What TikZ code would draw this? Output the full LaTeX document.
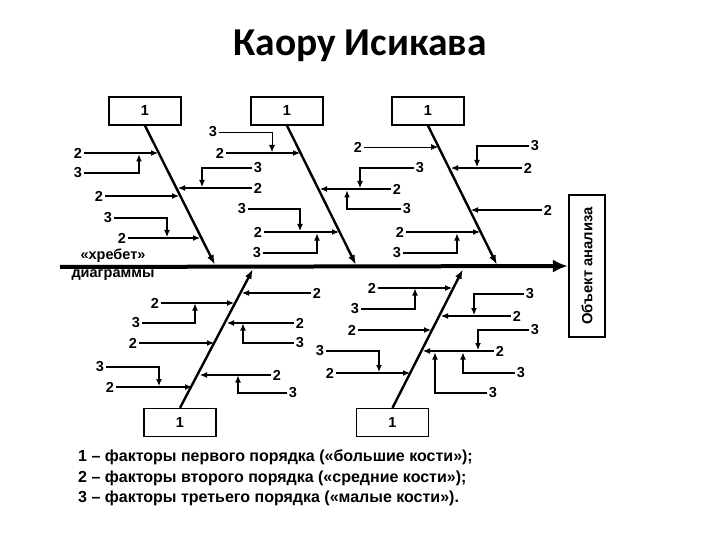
\documentclass[tikz,border=0pt]{standalone}
\usepackage{fontspec}
\setmainfont{Liberation Sans}
\newfontfamily\titlefont{Carlito}
\usetikzlibrary{arrows.meta}
\tikzset{
  lab/.style={font=\fontsize{14.5}{16}\selectfont\bfseries, inner sep=2pt},
  arr/.style={-{Latex[length=7pt,width=6pt]}, line width=1.1pt},
  bone/.style={-{Latex[length=10pt,width=7pt]}, line width=2.4pt},
  spine/.style={-{Latex[length=15pt,width=13pt]}, line width=4pt},
  onebox/.style={draw, line width=1.3pt, minimum width=72pt, minimum height=28pt, inner sep=0pt, font=\fontsize{14.5}{16}\selectfont\bfseries},
  legend/.style={anchor=west, inner sep=0pt, font=\fontsize{16}{18}\selectfont\bfseries},
  spinelab/.style={inner sep=0pt, font=\fontsize{14.5}{16}\selectfont\bfseries},
}
\begin{document}
\begin{tikzpicture}[x=1pt,y=-1pt]
\useasboundingbox (0,0) rectangle (720,540);
% title
\node[anchor=base, inner sep=0pt, font=\fontsize{39.5}{42}\selectfont\titlefont\bfseries] (title) at (360,56) {Каору Исикава};

% object box and spine
\node[draw, line width=2.2pt, minimum width=36pt, minimum height=142pt, inner sep=0pt] (obj) at (587,266) {};
\node[rotate=90, font=\fontsize{14.8}{16}\selectfont\bfseries] (objt) at (587,266) {Объект анализа};
\coordinate (sp0) at (60,267);
\draw[spine] (sp0) -- (obj.west);
\node[spinelab] (hr1) at (113,256) {«хребет»};
\node[spinelab] (hr2) at (113,275) {диаграммы};

% boxes 1
\node[onebox] (t1) at (145,111) {1};
\node[onebox] (t2) at (287,111) {1};
\node[onebox] (t3) at (428,111) {1};
\node[onebox] (u1) at (180,422.5) {1};
\node[onebox] (u2) at (392.5,422.5) {1};

% bones
\coordinate (s1) at (215,265);
\coordinate (s2) at (356,265);
\coordinate (s3) at (497,265);
\coordinate (s4) at (253,269);
\coordinate (s5) at (463,269);
\draw[bone] (t1.south) -- (s1);
\draw[bone] (t2.south) -- (s2);
\draw[bone] (t3.south) -- (s3);
\draw[bone] (u1.north) -- (s4);
\draw[bone] (u2.north) -- (s5);

% ---- top bone 1
\node[lab] (a1) at (78,153) {2};
\node[lab] (a2) at (78,173) {3};
\node[lab] (a3) at (99,196) {2};
\node[lab] (a4) at (108,218) {3};
\node[lab] (a5) at (122,238) {2};
\node[lab] (a6) at (258,168) {3};
\node[lab] (a7) at (258,188) {2};
\draw[arr] (a1.east) -- (158,153);
\draw[arr] (a2.east) -| (139,154.5);
\draw[arr] (a3.east) -- (179,196);
\draw[arr] (a4.east) -| (167,237);
\draw[arr] (a5.east) -- (200,238);
\draw[arr] (a6.west) -| (202,187);
\draw[arr] (a7.west) -- (178,188);

% ---- top bone 2
\node[lab] (b1) at (213,132) {3};
\node[lab] (b2) at (220,153) {2};
\node[lab] (b3) at (242,209) {3};
\node[lab] (b4) at (258,232) {2};
\node[lab] (b5) at (257,253) {3};
\node[lab] (b6) at (420,168) {3};
\node[lab] (b7) at (397,189) {2};
\node[lab] (b8) at (407,209) {3};
\draw[arr, line width=0.8pt] (b1.east) -| (272,152);
\draw[arr] (b2.east) -- (300,153);
\draw[arr] (b3.east) -| (300,231);
\draw[arr] (b4.east) -- (339,232);
\draw[arr] (b5.east) -| (317,233.5);
\draw[arr] (b6.west) -| (360,188);
\draw[arr] (b7.west) -- (320,189);
\draw[arr] (b8.west) -| (347,190.5);

% ---- top bone 3
\node[lab] (c1) at (358,147) {2};
\node[lab] (c2) at (400,232) {2};
\node[lab] (c3) at (397,253) {3};
\node[lab] (c4) at (535,146) {3};
\node[lab] (c5) at (528,168) {2};
\node[lab] (c6) at (548,210) {2};
\draw[arr, line width=0.8pt] (c1.east) -- (438,147);
\draw[arr] (c2.east) -- (480,232);
\draw[arr] (c3.east) -| (457,233.5);
\draw[arr] (c4.west) -| (477,167);
\draw[arr] (c5.west) -- (451,168);
\draw[arr] (c6.west) -- (471,210);

% ---- bottom bone 1
\node[lab] (d1) at (155,303) {2};
\node[lab] (d2) at (136,323) {3};
\node[lab] (d3) at (133,343) {2};
\node[lab] (d4) at (100,367) {3};
\node[lab] (d5) at (110,387) {2};
\node[lab] (d6) at (317,293) {2};
\node[lab] (d7) at (300,323) {2};
\node[lab] (d8) at (300,343) {3};
\node[lab] (d9) at (277,375) {2};
\node[lab] (d10) at (293,393) {3};
\draw[arr] (d1.east) -- (234,303);
\draw[arr] (d2.east) -| (195,303.5);
\draw[arr] (d3.east) -- (214,343);
\draw[arr] (d4.east) -| (159,386);
\draw[arr] (d5.east) -- (192,387);
\draw[arr] (d6.west) -- (242,293);
\draw[arr] (d7.west) -- (227,323);
\draw[arr] (d8.west) -| (243,323.5);
\draw[arr] (d9.west) -- (200,375);
\draw[arr] (d10.west) -| (238,375.5);

% ---- bottom bone 2
\node[lab] (e1) at (372,288) {2};
\node[lab] (e2) at (355,309) {3};
\node[lab] (e3) at (352,330) {2};
\node[lab] (e4) at (320,351) {3};
\node[lab] (e5) at (330,373) {2};
\node[lab] (e6) at (530,294) {3};
\node[lab] (e7) at (517,316) {2};
\node[lab] (e8) at (535,330) {3};
\node[lab] (e9) at (500,351) {2};
\node[lab] (e10) at (521,373) {3};
\node[lab] (e11) at (493,393) {3};
\draw[arr] (e1.east) -- (452,288);
\draw[arr] (e2.east) -| (415,288.5);
\draw[arr] (e3.east) -- (431,330);
\draw[arr] (e4.east) -| (379,372);
\draw[arr] (e5.east) -- (410,373);
\draw[arr] (e6.west) -| (474,315);
\draw[arr] (e7.west) -- (441,316);
\draw[arr] (e8.west) -| (478,350);
\draw[arr] (e9.west) -- (423,351);
\draw[arr] (e10.west) -| (463,352.5);
\draw[arr] (e11.west) -| (435,352.5);

% legend
\node[legend] (l1) at (78,457) {1 – факторы первого порядка («большие кости»);};
\node[legend] (l2) at (78,478) {2 – факторы второго порядка («средние кости»);};
\node[legend] (l3) at (78,498) {3 – факторы третьего порядка («малые кости»).};
\end{tikzpicture}
\end{document}
